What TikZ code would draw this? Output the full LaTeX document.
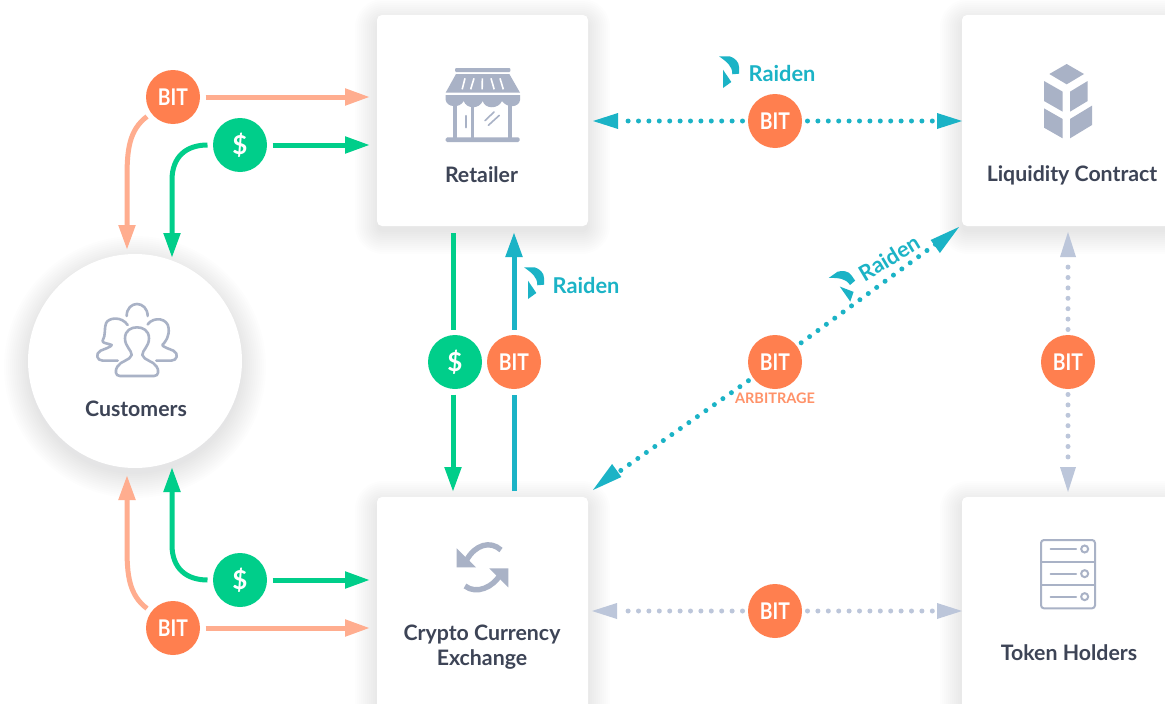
\documentclass[tikz,border=0pt]{standalone}
\usepackage{fontspec}
\setmainfont{Lato}
\usetikzlibrary{arrows.meta}
\definecolor{cOrange}{HTML}{FF7F4F}
\definecolor{cGreen}{HTML}{00CE8A}
\definecolor{cTeal}{HTML}{1BB3C6}
\definecolor{cSalmon}{HTML}{FFAD8F}
\definecolor{cIcon}{HTML}{A9B2C6}
\definecolor{cDot}{HTML}{BCC6DA}
\definecolor{cText}{HTML}{3D4456}
\definecolor{cShadow}{HTML}{3A4668}
\newcommand{\softrect}[4]{%
  \foreach \i in {0,2,...,22}{
    \fill[cShadow,opacity=0.007,rounded corners=6pt+\i pt]
      (#1-\i,#2-\i+6) rectangle (#3+\i,#4+\i+6);
  }}
\tikzset{
  x=1pt,y=-1pt,
  card/.style={fill=white,rounded corners=5pt,inner sep=0pt,outer sep=0pt,minimum width=211pt},
  caption/.style={font=\fontsize{21.3}{25}\selectfont\bfseries,text=cText,align=center,inner sep=0pt},
  badge/.style={circle,minimum size=54pt,inner sep=0pt,outer sep=5.5pt,text=white,font=\fontsize{23}{23}\selectfont\bfseries},
  bitbadge/.style={badge,fill=cOrange},
  usdbadge/.style={badge,fill=cGreen,font=\fontsize{26}{26}\selectfont\bfseries},
  raidentext/.style={text=cTeal,font=\fontsize{21.8}{24}\selectfont\bfseries,inner sep=0pt},
  solidline/.style={line width=5pt,-{Triangle[length=25pt,width=16pt]}},
  dotline/.style={line width=5pt,line cap=round,dash pattern=on 0pt off 10.4pt,shorten >=27pt},
  zoomat/.style 2 args={xshift=#1 pt,yshift=-#2 pt,x=0.33333pt,y=-0.33333pt},
  raidenlogo/.pic={
    \fill[cTeal] (-10,-15.7) -- (0.7,-15.7) .. controls (6,-14) and (10,-10) .. (10,-5) -- (10,1.7) -- (3.3,2.3)
       .. controls (3.5,-6) and (-2,-10) .. (-10,-15.7) -- cycle;
    \fill[cTeal] (-6,-2.3) -- (2.3,10) -- (-6,16) -- cycle;
  }
}
\newcommand{\bittext}{\scalebox{0.84}[1]{BIT}}
\begin{document}
\begin{tikzpicture}
\clip (0,0) rectangle (1165,704);
\fill[white] (0,0) rectangle (1165,704);

% shadows
\softrect{377}{15}{588}{226}
\softrect{962}{15}{1190}{226}
\softrect{377}{497}{588}{730}
\softrect{962}{497}{1190}{730}
\foreach \i in {0,2,...,24}{
  \fill[cShadow,opacity=0.007] (135,367) circle ({107+\i});
}

% cards
\node[card,minimum height=211pt] (retailer) at (482.5,120.5) {};
\node[card,minimum height=211pt,minimum width=228pt] (liquidity) at (1076,120.5) {};
\node[card,minimum height=233pt] (exchange) at (482.5,613.5) {};
\node[card,minimum height=233pt,minimum width=228pt] (holders) at (1076,613.5) {};
\node[circle,fill=white,minimum size=214pt,inner sep=0pt] (customers) at (135,361) {};

% captions
\node[caption] (retailerT) at (481.5,175) {Retailer};
\node[caption] (liquidityT) at (1072,175) {Liquidity Contract};
\node[caption] (customersT) at (136,409) {Customers};
\node[caption] (exchangeT) at (482,647) {Crypto Currency\\Exchange};
\node[caption] (holdersT) at (1069,653) {Token Holders};

% badges
\node[bitbadge] (bitA) at (173,97) {\bittext};
\node[usdbadge] (usdA) at (240,145) {\$};
\node[usdbadge] (usdB) at (240,580) {\$};
\node[bitbadge] (bitB) at (173,628) {\bittext};
\node[usdbadge] (usdC) at (455,362) {\$};
\node[bitbadge] (bitC) at (514,362) {\bittext};
\node[bitbadge] (bitD) at (775,121) {\bittext};
\node[bitbadge] (bitE) at (775,362) {\bittext};
\node[bitbadge] (bitF) at (1068,362) {\bittext};
\node[bitbadge] (bitG) at (775,611) {\bittext};
\node[text=cOrange!85!white,font=\fontsize{14.5}{16}\selectfont\bfseries,inner sep=0pt] (arb) at (775,398) {ARBITRAGE};

% free ends of the connectors
\coordinate (rA) at (370,97);
\coordinate (rB) at (370,145);
\coordinate (xA) at (370,580);
\coordinate (xB) at (370,628);
\coordinate (cA) at (127,250);
\coordinate (cB) at (172,258);
\coordinate (cC) at (172,467);
\coordinate (cD) at (127,475);
\coordinate (rC) at (453,233);
\coordinate (xC) at (453,492);
\coordinate (rD) at (514,232);
\coordinate (xD) at (514,491);
\coordinate (rE) at (593,121);
\coordinate (lE) at (962,121);
\coordinate (lF) at (959,227);
\coordinate (xF) at (593,490);
\coordinate (lG) at (1068,232);
\coordinate (hG) at (1068,492);
\coordinate (xH) at (592,611);
\coordinate (hH) at (962,611);

% salmon
\draw[solidline,cSalmon] (bitA) -- (rA);
\draw[solidline,cSalmon] (bitB) -- (xB);
\draw[solidline,cSalmon] (bitA) .. controls (129,130) and (127,150) .. (127,178) -- (cA);
\draw[solidline,cSalmon] (bitB) .. controls (129,595) and (127,575) .. (127,548) -- (cD);
% green
\draw[solidline,cGreen] (usdA) -- (rB);
\draw[solidline,cGreen] (usdB) -- (xA);
\draw[solidline,cGreen] (usdA) .. controls (186,145) and (172,157) .. (172,180) -- (cB);
\draw[solidline,cGreen] (usdB) .. controls (186,580) and (172,568) .. (172,545) -- (cC);
\draw[line width=5pt,cGreen] (rC) -- (rC |- usdC.north);
\draw[solidline,cGreen] (xC |- usdC.south) -- (xC);
% teal solid
\draw[line width=5pt,cTeal] (xD) -- (xD |- bitC.south);
\draw[solidline,cTeal] (rD |- bitC.north) -- (rD);

% dotted, teal
\draw[dotline,cTeal] (bitD) -- (rE);
\draw[dotline,cTeal] (bitD) -- (lE);
\draw[dotline,cTeal] (bitE) -- (lF);
\draw[dotline,cTeal] (bitE) -- (xF);
% dotted, grey
\draw[dotline,cDot] (bitF) -- (lG);
\draw[dotline,cDot] (bitF) -- (hG);
\draw[dotline,cDot] (bitG) -- (xH);
\draw[dotline,cDot] (bitG) -- (hH);

% dotted-line arrowheads
\fill[cTeal] (rE) -- ++(25,-8) -- ++(0,16) -- cycle;
\fill[cTeal] (lE) -- ++(-25,-8) -- ++(0,16) -- cycle;
\fill[cTeal] (lF) -- (930.6,240) -- (939.9,253) -- cycle;
\fill[cTeal] (xF) -- (621.4,477) -- (612.1,464) -- cycle;
\fill[cDot] (lG) -- ++(-8,25) -- ++(16,0) -- cycle;
\fill[cDot] (hG) -- ++(-8,-25) -- ++(16,0) -- cycle;
\fill[cDot] (xH) -- ++(25,-8) -- ++(0,16) -- cycle;
\fill[cDot] (hH) -- ++(-25,-8) -- ++(0,16) -- cycle;

% Raiden labels
\pic at (729,72) {raidenlogo};
\node[raidentext,anchor=west] (raidenA) at (748.5,73) {Raiden};
\pic at (534,283) {raidenlogo};
\node[raidentext,anchor=west] (raidenB) at (552.5,285) {Raiden};
\pic[rotate=35] at (846,285) {raidenlogo};
\node[raidentext,rotate=31] (raidenC) at (889,258) {Raiden};

% store icon
\begin{scope}[zoomat={420}{50}]
  \fill[cIcon,rounded corners=1pt] (105,54) rectangle (271,66);
  \fill[cIcon] (108,72) -- (268,72) -- (300,128) -- (77,128) -- cycle;
  \foreach \a/\b in {135/118,162/142,187/186,213/232,240/260}{
    \draw[white,line width=1.6pt] (\a,85) -- ({(\a+\b)/2},118);
  }
  \fill[cIcon] (77,135) -- (300,135) -- (300,150) .. controls (298,172) and (262,176) .. (246,153)
     .. controls (235,178) and (195,178) .. (188,153) .. controls (178,178) and (140,178) .. (131,153)
     .. controls (120,176) and (80,172) .. (77,150) -- cycle;
  \fill[cIcon] (98,165) rectangle (110,265);
  \fill[cIcon] (153,165) rectangle (161,265);
  \fill[cIcon] (264,165) rectangle (277,265);
  \fill[cIcon,rounded corners=1.5pt] (77,262) rectangle (299,276);
  \draw[cIcon,line width=2.4pt,line cap=round] (138,198) -- (138,232);
  \draw[cIcon,line width=1.6pt,line cap=round] (195,212) -- (222,186);
  \draw[cIcon,line width=1.6pt,line cap=round] (205,226) -- (238,196);
\end{scope}

% liquidity icon
\begin{scope}[zoomat={1020}{50}]
  \fill[cIcon] (140,42) -- (192,72) -- (140,103) -- (88,72) -- cycle;
  \fill[cIcon] (72,93) -- (128,125) -- (128,185) -- (72,153) -- cycle;
  \fill[cIcon] (150,125) -- (203,93) -- (203,153) -- (150,185) -- cycle;
  \fill[cIcon] (72,175) -- (128,207) -- (128,265) -- (72,233) -- cycle;
  \fill[cIcon] (150,207) -- (216,167) -- (216,225) -- (150,265) -- cycle;
\end{scope}

% customers icon
\begin{scope}[zoomat={80}{290},cIcon,line width=2.6pt,line cap=round,line join=round]
  \draw (120,258) .. controls (105,258) and (105,240) .. (112,230)
     .. controls (122,212) and (150,212) .. (155,195)
     .. controls (155,180) and (135,170) .. (135,145)
     .. controls (135,120) and (155,112) .. (171,112)
     .. controls (187,112) and (207,120) .. (207,145)
     .. controls (207,170) and (187,180) .. (187,195)
     .. controls (192,212) and (220,212) .. (230,230)
     .. controls (237,240) and (237,258) .. (222,258) -- cycle;
  \draw (140,78) .. controls (140,55) and (155,42) .. (171,42)
     .. controls (187,42) and (203,55) .. (203,78);
  \draw (113,212) -- (68,212) .. controls (50,212) and (45,190) .. (62,182)
     .. controls (75,176) and (92,172) .. (95,165)
     .. controls (85,160) and (65,160) .. (68,152)
     .. controls (78,135) and (72,115) .. (78,100)
     .. controls (85,82) and (125,78) .. (143,105);
  \draw (229,212) -- (274,212) .. controls (292,212) and (297,190) .. (280,182)
     .. controls (267,176) and (250,172) .. (247,165)
     .. controls (257,155) and (268,140) .. (266,115)
     .. controls (264,85) and (222,78) .. (203,103);
\end{scope}

% exchange icon
\begin{scope}[zoomat={440}{530},cIcon]
  \draw[line width=5.4pt] (183,60) .. controls (150,30) and (105,45) .. (80,90);
  \fill (50,55) -- (50,112) -- (108,112) -- cycle;
  \draw[line width=5.4pt] (75,168) .. controls (110,195) and (160,170) .. (180,135);
  \fill (205,115) -- (205,172) -- (148,115) -- cycle;
\end{scope}

% holders icon
\begin{scope}[zoomat={1020}{530},cIcon,line width=2pt]
  \draw[rounded corners=3pt] (63,30) rectangle (225,235);
  \draw (63,95) -- (225,95);
  \draw (63,165) -- (225,165);
  \foreach \v in {57,131,200}{
    \draw[line cap=round] (92,\v) -- (168,\v);
    \draw (194,\v) circle (10.5);
  }
\end{scope}
\end{tikzpicture}
\end{document}
